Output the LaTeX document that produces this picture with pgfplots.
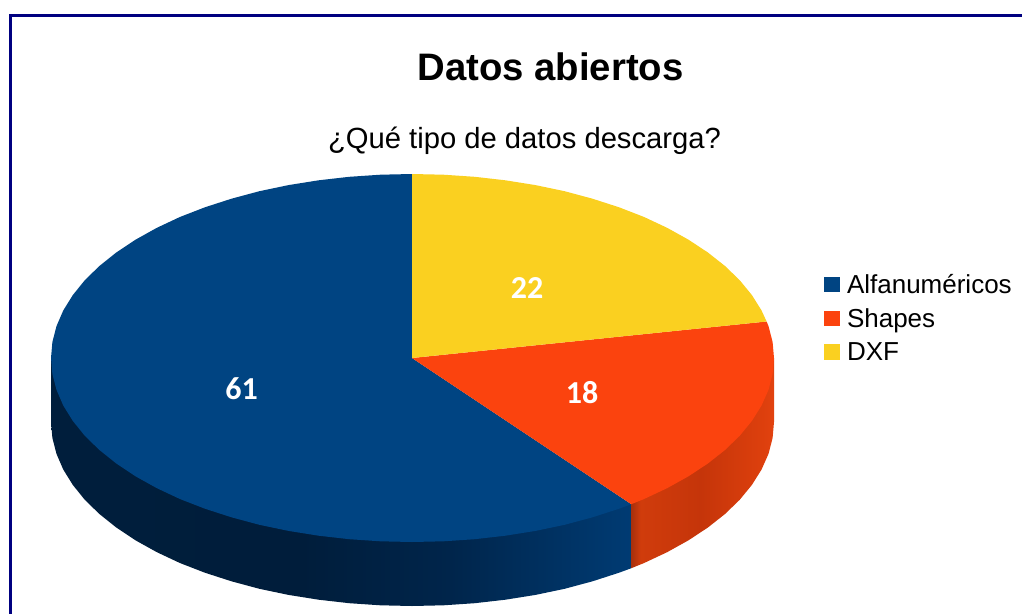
\documentclass[border=0pt]{standalone}
\usepackage{fontspec}
\setmainfont{Liberation Sans}
\newfontfamily\labelfont{Carlito}
\usepackage{pgfplots}
\pgfplotsset{compat=1.18}
\definecolor{pnavy}{HTML}{004482}
\definecolor{porange}{HTML}{FB430E}
\definecolor{pyellow}{HTML}{FAD020}
\definecolor{frameblue}{HTML}{000080}
\pgfdeclarehorizontalshading{navyside}{100bp}{
 rgb(0bp)=(0,0.118,0.235);
 rgb(25bp)=(0,0.118,0.235);
 rgb(46.5bp)=(0,0.114,0.231);
 rgb(59.4bp)=(0,0.145,0.294);
 rgb(75bp)=(0,0.231,0.451);
 rgb(100bp)=(0,0.231,0.451)}
\pgfdeclarehorizontalshading{orangeside}{100bp}{
 rgb(0bp)=(0.659,0.188,0.047);
 rgb(25bp)=(0.659,0.188,0.047);
 rgb(28.2bp)=(0.816,0.235,0.047);
 rgb(49.3bp)=(0.773,0.208,0.039);
 rgb(70.4bp)=(0.863,0.247,0.051);
 rgb(75bp)=(0.886,0.259,0.059);
 rgb(100bp)=(0.886,0.259,0.059)}
\begin{document}
\begin{tikzpicture}
\begin{axis}[
  at={(0pt,0pt)}, anchor=south west,
  width=1022pt, height=613pt, scale only axis,
  xmin=0, xmax=1022, ymin=0, ymax=613, y dir=reverse,
  hide axis,
  title={\fontsize{38.3}{44}\selectfont\bfseries Datos abiertos},
  title style={at={(axis cs:550.5,73)}, anchor=center, inner sep=0pt},
  legend style={at={(axis cs:824,274)}, anchor=north west, draw=none, fill=none,
    font=\fontsize{26}{30}\selectfont, inner sep=0pt, outer sep=0pt,
    row sep=13.7pt, nodes={inner sep=0pt, outer sep=0pt, anchor=west}},
  legend cell align=left,
  legend image code/.code={\path[#1,draw=none] (0pt,-7.8pt) rectangle (15.6pt,7.8pt); \path (23pt,0pt);},
]
% frame
\addplot[forget plot, draw=frameblue, line width=3pt, mark=none] coordinates {(1024,15)(10.5,15)(10.5,615)};
% side walls
\addplot[forget plot, draw=none, mark=none, shading=navyside] coordinates {
 (51,358)(51,422)(52.4,438)(56.5,453.9)(63.3,469.6)(72.8,484.9)(84.8,499.8)(99.4,514)
 (116.3,527.5)(135.5,540.3)(156.7,552.1)(179.9,563)(204.9,572.7)(231.5,581.3)(259.4,588.8)
 (288.5,594.9)(318.6,599.7)(349.3,603.2)(380.5,605.3)(412,606)(443.5,605.3)(474.7,603.2)
 (505.4,599.7)(535.5,594.9)(564.6,588.8)(592.5,581.3)(619.1,572.7)(631.3,568.2)(631.3,504.2)} --cycle;
\addplot[forget plot, draw=none, mark=none, shading=orangeside] coordinates {
 (631.3,504.2)(631.3,568.2)(644.1,563)(667.3,552.1)(688.5,540.3)(707.9,527.5)(725,514)
 (739.7,499.8)(751.9,484.9)(761.5,469.6)(768.5,453.9)(772.6,438)(774,422)(774,358)} --cycle;
% top faces
\addplot[fill=pnavy, draw=none, mark=none] coordinates {
 (412,358)(412,174)(380.5,174.7)(349.3,176.8)(318.6,180.3)(288.5,185.1)(259.4,191.2)(231.5,198.7)
 (204.9,207.3)(179.9,217)(156.7,227.9)(135.5,239.7)(116.3,252.5)(99.4,266)(84.8,280.2)(72.8,295.1)
 (63.3,310.4)(56.5,326.1)(52.4,342)(51,358)(52.4,374)(56.5,389.9)(63.3,405.6)(72.8,420.9)(84.8,435.8)
 (99.4,450)(116.3,463.5)(135.5,476.3)(156.7,488.1)(179.9,499)(204.9,508.7)(231.5,517.3)(259.4,524.8)
 (288.5,530.9)(318.6,535.7)(349.3,539.2)(380.5,541.3)(412,542)(443.5,541.3)(474.7,539.2)(505.4,535.7)
 (535.5,530.9)(564.6,524.8)(592.5,517.3)(619.1,508.7)(631.3,504.2)} --cycle;
\addlegendentry{Alfanuméricos}
\addplot[fill=porange, draw=none, mark=none] coordinates {
 (412,358)(631.3,504.2)(644.1,499)(667.3,488.1)(688.5,476.3)(707.9,463.5)(725,450)(739.7,435.8)
 (751.9,420.9)(761.5,405.6)(768.5,389.9)(772.6,374)(774,358)(772.6,342)(768.5,326.1)(766.6,321.5)} --cycle;
\addlegendentry{Shapes}
\addplot[fill=pyellow, draw=none, mark=none] coordinates {
 (412,358)(766.6,321.5)(761.5,310.4)(751.9,295.1)(739.7,280.2)(725,266)(707.9,252.5)(688.5,239.7)
 (667.3,227.9)(644.1,217)(619.1,207.3)(592.5,198.7)(564.6,191.2)(535.5,185.1)(505.4,180.3)(474.7,176.8)
 (443.5,174.7)(412,174)} --cycle;
\addlegendentry{DXF}
% data labels
\addplot[forget plot, only marks, mark=none, point meta=explicit symbolic,
  nodes near coords, nodes near coords style={anchor=center, inner sep=0pt, text=white,
  font=\labelfont\bfseries\fontsize{32}{36}\selectfont}]
  coordinates {(241.5,389)[61] (582,392.5)[18] (527,288)[22]};
% subtitle
\node[anchor=center, inner sep=0pt, font=\fontsize{29.2}{34}\selectfont] at (axis cs:524.5,141) {¿Qué tipo de datos descarga?};
\end{axis}
\pgfresetboundingbox
\useasboundingbox (0pt,0pt) rectangle (1022pt,613pt);
\end{tikzpicture}
\end{document}
